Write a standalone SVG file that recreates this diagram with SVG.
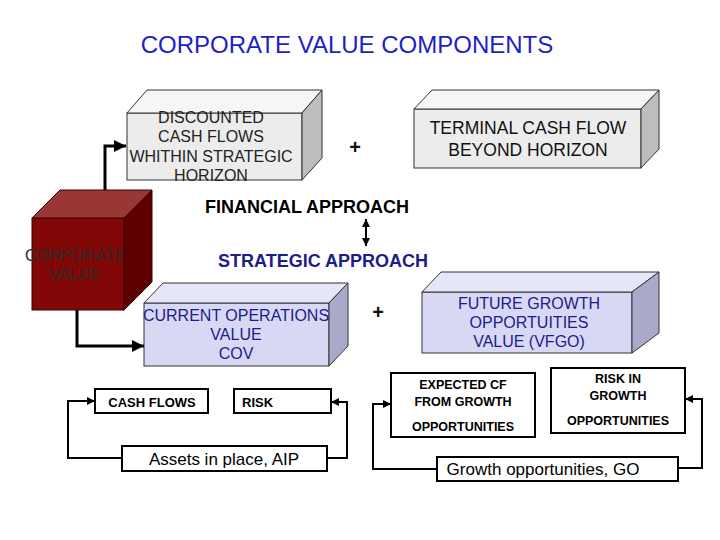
<svg xmlns="http://www.w3.org/2000/svg" width="720" height="540" viewBox="0 0 720 540">
<style>
.t{font-family:"Liberation Sans",Arial,sans-serif;text-anchor:middle}
.gf{fill:#ececec;stroke:#333;stroke-width:1}
.gt{fill:#f6f6f6;stroke:#333;stroke-width:1}
.gs{fill:#bdbdbd;stroke:#333;stroke-width:1}
.lf{fill:#d8d8f4;stroke:#333;stroke-width:1}
.lt{fill:#e6e6f9;stroke:#333;stroke-width:1}
.ls{fill:#a9a9c9;stroke:#333;stroke-width:1}
.box{fill:#fff;stroke:#000;stroke-width:2}
.c3{fill:none;stroke:#000;stroke-width:3}
.c2{fill:none;stroke:#000;stroke-width:2}
.navy{fill:#1c1c8a}
</style>
<defs>
<marker id="ah" viewBox="0 0 10 10" refX="10" refY="5" markerWidth="4" markerHeight="4" orient="auto-start-reverse" markerUnits="strokeWidth">
<path d="M0,0 L10,5 L0,10 z" fill="#000"/>
</marker>
<marker id="ah2" viewBox="0 0 10 10" refX="10" refY="5" markerWidth="4" markerHeight="4" orient="auto-start-reverse" markerUnits="strokeWidth">
<path d="M0,0 L10,5 L0,10 z" fill="#000"/>
</marker>
</defs>
<rect width="720" height="540" fill="#fff"/>
<text id="title" class="t" x="347" y="53" font-size="24" fill="#1e1ec8">CORPORATE VALUE COMPONENTS</text>

<g id="connectors">
<path class="c3" d="M105,190 V146 H126" marker-end="url(#ah)"/>
<path class="c3" d="M77,310 V346 H144" marker-end="url(#ah)"/>
<path class="c2" d="M122,458 H68 V401 H95" marker-end="url(#ah2)"/>
<path class="c2" d="M327,458 H347 V402 H331" marker-end="url(#ah2)"/>
<path class="c2" d="M437,469 H373 V404 H391" marker-end="url(#ah2)"/>
<path class="c2" d="M678,468 H702 V399 H685" marker-end="url(#ah2)"/>
<path class="c2" d="M366,219 V246" stroke-width="2.5" marker-start="url(#ah2)" marker-end="url(#ah2)"/>
</g>

<g id="dcf">
<rect class="gf" x="127" y="113" width="175" height="67"/>
<polygon class="gt" points="127,113 147,90 322,90 302,113"/>
<polygon class="gs" points="302,113 322,90 322,158 302,180"/>
<text class="t" font-size="16" fill="#222"><tspan x="211" y="123">DISCOUNTED</tspan><tspan x="211" y="142">CASH FLOWS</tspan><tspan x="211" y="162">WHITHIN STRATEGIC</tspan><tspan x="211" y="181">HORIZON</tspan></text>
</g>

<g id="terminal">
<rect class="gf" x="414" y="109" width="227" height="59"/>
<polygon class="gt" points="414,109 432,90 659,90 641,109"/>
<polygon class="gs" points="641,109 659,90 659,149 641,168"/>
<text class="t" font-size="17.5" fill="#111"><tspan x="528" y="134">TERMINAL CASH FLOW</tspan><tspan x="528" y="156">BEYOND HORIZON</tspan></text>
</g>

<text id="plus1" class="t" x="355" y="154" font-size="20" font-weight="bold" fill="#111">+</text>

<g id="corporate">
<rect x="32" y="218" width="92" height="92" fill="#820808" stroke="#3a0000" stroke-width="1"/>
<polygon points="32,218 60,190 152,190 124,218" fill="#993636" stroke="#3a0000" stroke-width="1"/>
<polygon points="124,218 152,190 152,282 124,310" fill="#5e0000" stroke="#3a0000" stroke-width="1"/>
<text class="t" font-size="16" fill="#2a2a2a"><tspan x="75" y="261">CORPORATE</tspan><tspan x="75" y="280">VALUE</tspan></text>
</g>

<text id="financial" class="t" x="307" y="213" font-size="18" font-weight="bold" fill="#000">FINANCIAL APPROACH</text>
<text id="strategic" class="t navy" x="323" y="267" font-size="18" font-weight="bold">STRATEGIC APPROACH</text>

<g id="cov">
<rect class="lf" x="144" y="303" width="185" height="63"/>
<polygon class="lt" points="144,303 163,283 348,283 329,303"/>
<polygon class="ls" points="329,303 348,283 348,346 329,366"/>
<text class="t navy" font-size="16"><tspan x="236" y="321">CURRENT OPERATIONS</tspan><tspan x="236" y="340">VALUE</tspan><tspan x="236" y="359">COV</tspan></text>
</g>

<text id="plus2" class="t" x="378" y="319" font-size="20" font-weight="bold" fill="#111">+</text>

<g id="vfgo">
<rect class="lf" x="422" y="292" width="210" height="61"/>
<polygon class="lt" points="422,292 441,272 659,272 632,292"/>
<polygon class="ls" points="632,292 659,272 659,333 632,353"/>
<text class="t navy" font-size="16"><tspan x="529" y="309">FUTURE GROWTH</tspan><tspan x="529" y="328">OPPORTUITIES</tspan><tspan x="529" y="347">VALUE (VFGO)</tspan></text>
</g>

<g id="cashflows">
<rect class="box" x="95" y="389" width="113" height="24"/>
<text class="t" x="152" y="407" font-size="13" font-weight="bold">CASH FLOWS</text>
</g>
<g id="risk">
<rect class="box" x="234" y="389" width="97" height="24"/>
<text x="242" y="407" font-family="Liberation Sans, Arial, sans-serif" font-size="13" font-weight="bold">RISK</text>
</g>
<g id="aip">
<rect class="box" x="122" y="446" width="205" height="25"/>
<text class="t" x="224" y="465" font-size="17">Assets in place, AIP</text>
</g>

<g id="expectedcf">
<rect class="box" x="391" y="373" width="144" height="64"/>
<text class="t" font-size="12.5" font-weight="bold"><tspan x="463" y="389">EXPECTED CF</tspan><tspan x="463" y="406">FROM GROWTH</tspan><tspan x="463" y="431">OPPORTUNITIES</tspan></text>
</g>
<g id="riskgrowth">
<rect class="box" x="551" y="368" width="134" height="65"/>
<text class="t" font-size="12.5" font-weight="bold"><tspan x="618" y="383">RISK IN</tspan><tspan x="618" y="400">GROWTH</tspan><tspan x="618" y="425">OPPORTUNITIES</tspan></text>
</g>
<g id="go">
<rect class="box" x="437" y="457" width="241" height="24"/>
<text class="t" x="543" y="475" font-size="17">Growth opportunities, GO</text>
</g>
</svg>
